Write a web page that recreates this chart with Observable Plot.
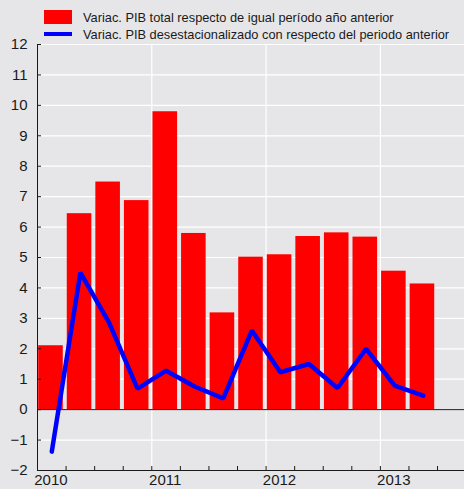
<!DOCTYPE html>
<html><head><meta charset="utf-8">
<script src="https://cdn.jsdelivr.net/npm/d3@7"></script>
<script src="https://cdn.jsdelivr.net/npm/@observablehq/plot@0.6"></script>
<style>
html,body{margin:0;padding:0;background:#e6e6e8;}
#wrap{position:relative;width:464px;height:489px;overflow:hidden;font-family:"Liberation Sans",Arial,sans-serif;}
#legend{position:absolute;left:0;top:0;}
</style></head><body>
<div id="wrap"><div id="chart"></div><svg id="legend" width="464" height="44"></svg></div>
<script>
const quarters = ["2010-I","2010-II","2010-III","2010-IV","2011-I","2011-II","2011-III","2011-IV","2012-I","2012-II","2012-III","2012-IV","2013-I","2013-II"];
const pibTotal = [2.10, 6.44, 7.48, 6.87, 9.79, 5.79, 3.18, 5.01, 5.09, 5.69, 5.81, 5.67, 4.55, 4.13];
const pibDesest = [-1.38, 4.50, 2.87, 0.69, 1.28, 0.76, 0.37, 2.60, 1.23, 1.50, 0.71, 2.00, 0.79, 0.46];
const years = ["2010","2011","2012","2013"];
const yTicks = d3.range(-2, 13);
const seriesNames = ["Variac. PIB total respecto de igual período año anterior",
                     "Variac. PIB desestacionalizado con respecto del periodo anterior"];
const seriesColors = ["#ff0000", "#0000ff"];

const data = quarters.map((q, i) => ({q, i, total: pibTotal[i], desest: pibDesest[i]}));
const quarterIdx = d3.range(0, quarters.length + 1);
const yearStarts = years.map((y, k) => k * 4);
const labelOffset = 0.47;

const chart = Plot.plot({
  width: 464,
  height: 489,
  marginTop: 44,
  marginBottom: 19,
  marginLeft: 37,
  marginRight: 0,
  style: {background: "transparent", fontFamily: "'Liberation Sans', Arial, sans-serif", fontSize: "15px", color: "#1a1a1a"},
  x: {type: "linear", domain: [0, 15], range: [37, 465.6], axis: null},
  y: {domain: [-2, 12], axis: null},
  marks: [
    Plot.ruleY(yTicks, {stroke: "white", strokeWidth: 1.2}),
    Plot.ruleX(yearStarts.slice(1), {stroke: "white", strokeWidth: 1.2}),
    Plot.rectY(data, {x1: d => d.i, x2: d => d.i + 1, y: "total", fill: seriesColors[0], insetLeft: 1.2, insetRight: 2.8}),
    Plot.ruleY([0], {stroke: "#1a1a1a", strokeWidth: 1}),
    Plot.line(data, {x: d => d.i + 0.5, y: "desest", stroke: seriesColors[1], strokeWidth: 4.5, strokeLinejoin: "miter"}),
    Plot.ruleX([0], {stroke: "#1a1a1a", strokeWidth: 1}),
    Plot.ruleY([-2], {stroke: "#1a1a1a", strokeWidth: 1}),
    Plot.axisY(yTicks, {tickSize: 4, dx: 4, fill: "none", stroke: "#1a1a1a"}),
    Plot.axisY(yTicks, {tickSize: 0, tickPadding: 10, fontSize: 15, fill: "#1a1a1a"}),
    Plot.axisX(quarterIdx.slice(0, 15), {tickSize: 4, dy: -4, fill: "none", stroke: "#1a1a1a"}),
    Plot.axisX(yearStarts.map(v => v + labelOffset), {tickSize: 0, tickPadding: 4, fontSize: 15, fill: "#1a1a1a",
      tickFormat: d => years[Math.round((d - labelOffset) / 4)]})
  ]
});
document.getElementById("chart").appendChild(chart);

const leg = d3.select("#legend");
leg.append("rect").attr("x", 44).attr("y", 10).attr("width", 28).attr("height", 14).attr("fill", seriesColors[0]);
leg.append("rect").attr("x", 44).attr("y", 32).attr("width", 28).attr("height", 4).attr("fill", seriesColors[1]);
seriesNames.forEach((name, k) => {
  leg.append("text").attr("x", 83).attr("y", 22 + k * 17).attr("font-size", 12.8)
    .attr("font-family", "'Liberation Sans', Arial, sans-serif").attr("fill", "#1a1a1a").text(name);
});
</script>
</body></html>
